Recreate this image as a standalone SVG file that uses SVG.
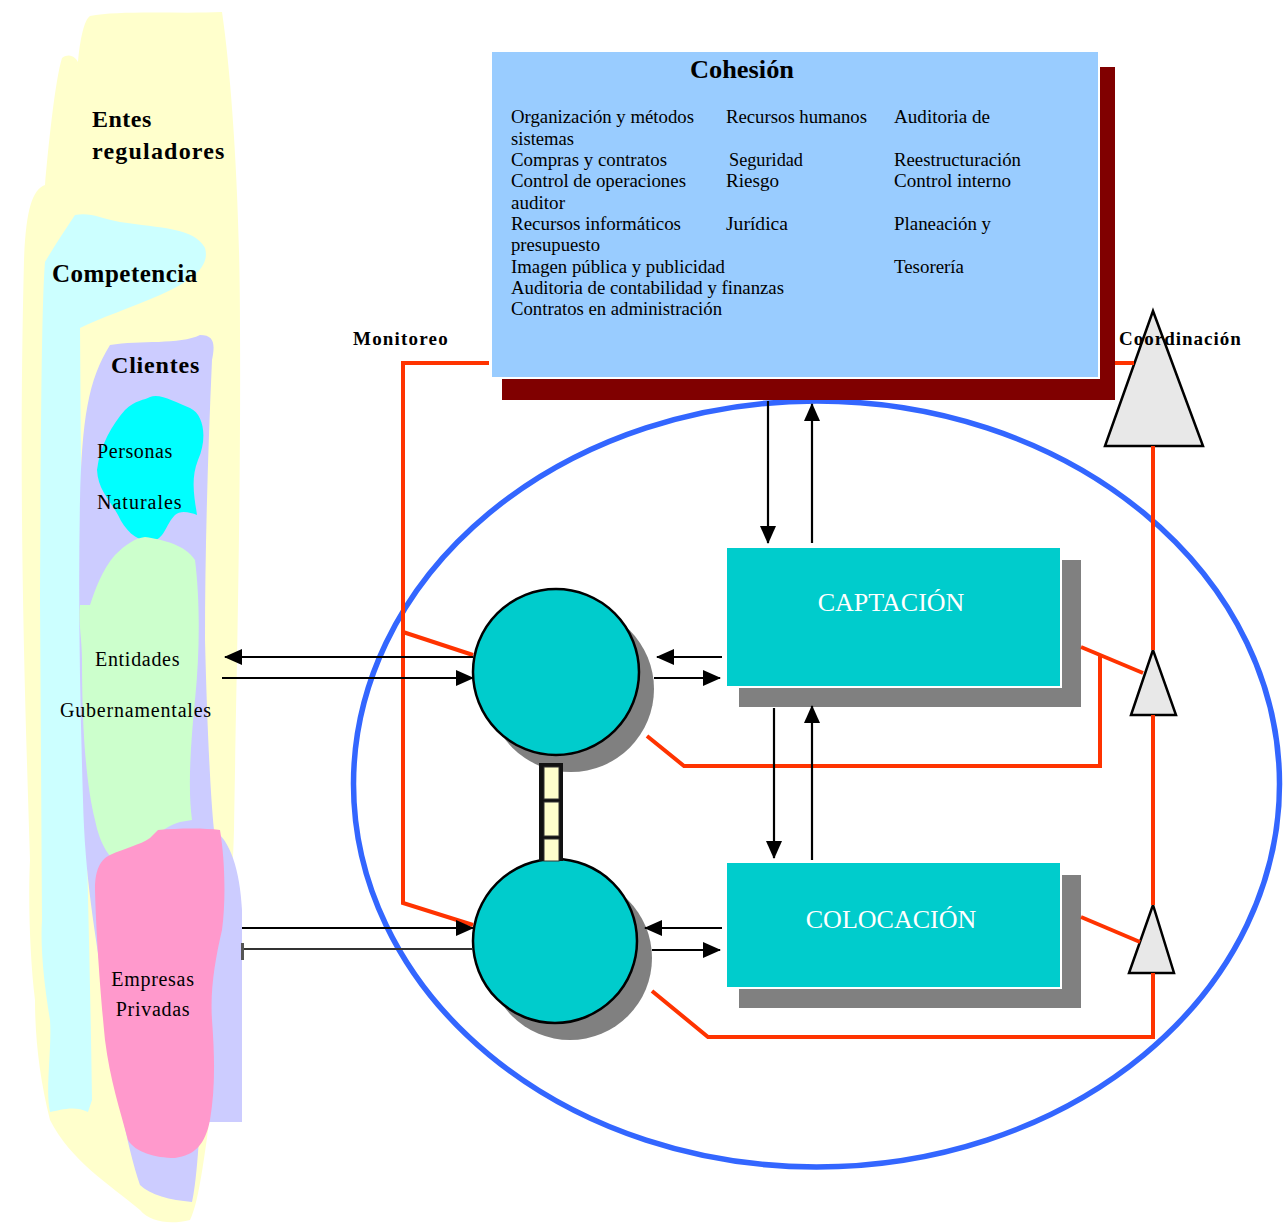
<svg xmlns="http://www.w3.org/2000/svg" width="1285" height="1224" viewBox="0 0 1285 1224">
<style>
.t{font-family:"Liberation Serif","Times New Roman",serif;fill:#000}
.b{font-weight:bold}
.list{font-size:19px}
.box{fill:#00CCCC;stroke:#fff;stroke-width:2}
.boxlbl{font-family:"Liberation Serif","Times New Roman",serif;font-size:26px;fill:#fff;text-anchor:middle}
.shadow{fill:#808080}
.circ{fill:#00CCCC;stroke:#000;stroke-width:2.5}
.tri{fill:#E8E8E8;stroke:#000;stroke-width:2.5;stroke-linejoin:miter}
.red{fill:none;stroke:#FF3300;stroke-width:4}
.arr{fill:none;stroke:#000;stroke-width:2.2}
.seg{fill:#FFFFCC;stroke:#333;stroke-width:1}
</style>
<defs>
<marker id="ah" viewBox="0 0 18 16" refX="17" refY="8" markerWidth="18" markerHeight="16" markerUnits="userSpaceOnUse" orient="auto">
<path d="M0,0 L18,8 L0,16 Z" fill="#000"/>
</marker>
</defs>
<rect width="1285" height="1224" fill="#fff"/>

<!-- Left regions -->
<g id="entes-reguladores">
<path fill="#FFFFCC" d="M90,16 C120,10 180,14 222,12 C232,80 240,200 240,330 C241,500 236,700 234,830 C232,900 225,1000 215,1080 C205,1150 200,1200 190,1220 C170,1225 150,1222 140,1210 C110,1185 70,1160 50,1120 C40,1080 35,1040 35,1000 C30,960 28,900 30,860 C25,700 18,500 24,260 C26,210 32,190 45,185 C48,150 55,80 62,58 C70,52 76,58 78,62 C80,40 84,20 90,16 Z"/>
<text class="t b" x="92" y="127" font-size="24" letter-spacing="0.5">Entes</text>
<text class="t b" x="92" y="159" font-size="24" letter-spacing="1.2">reguladores</text>
</g>
<g id="competencia">
<path fill="#CCFFFF" d="M75,215 C90,212 100,218 120,222 C160,228 195,228 205,248 C210,265 195,280 160,295 C130,308 100,318 80,328 L82,600 C85,800 90,950 92,1100 L88,1112 C75,1105 60,1110 50,1112 C45,1090 52,1050 50,1020 C45,990 40,950 42,920 L40,600 C41,400 42,300 45,262 C55,245 65,230 75,215 Z"/>
<text class="t b" x="52" y="282" font-size="25" letter-spacing="0.5">Competencia</text>
</g>
<g id="clientes">
<path fill="#CCCCFF" d="M110,345 C140,340 180,345 200,335 C215,335 215,345 212,360 C208,450 205,550 205,640 C207,720 210,790 214,830 C230,840 240,870 242,910 L242,1122 L200,1122 C198,1160 195,1190 192,1202 C170,1200 150,1195 140,1185 C125,1140 115,1080 105,1000 C95,930 85,880 83,800 C80,700 78,600 80,500 C82,420 88,380 110,345 Z"/>
<text class="t b" x="111" y="373" font-size="24" letter-spacing="0.8">Clientes</text>
</g>
<g id="personas-naturales">
<path fill="#00FFFF" d="M150,397 C160,393 175,402 190,408 C205,415 207,440 198,460 C190,480 195,500 197,515 C190,512 180,510 175,515 C165,525 165,540 150,542 C135,540 125,530 118,515 C110,500 98,490 97,470 C100,445 112,425 125,410 C135,400 145,400 150,397 Z"/>
<text class="t" x="97" y="458" font-size="20" letter-spacing="0.6">Personas</text>
<text class="t" x="97" y="509" font-size="20" letter-spacing="1">Naturales</text>
</g>
<g id="entidades-gubernamentales">
<path fill="#CCFFCC" d="M145,537 C165,540 185,545 195,560 C200,600 200,650 195,700 C190,750 188,790 192,820 L180,822 C170,825 160,830 155,840 C150,860 140,870 125,870 C110,860 100,845 95,820 C85,780 82,720 82,660 C82,640 78,620 80,605 L90,605 C95,590 102,570 115,555 C125,545 135,538 145,537 Z"/>
<text class="t" x="95" y="666" font-size="20" letter-spacing="0.7">Entidades</text>
<text class="t" x="60" y="717" font-size="20" letter-spacing="0.8">Gubernamentales</text>
</g>
<g id="empresas-privadas">
<path fill="#FF99CC" d="M158,830 C180,828 205,828 220,830 C225,860 226,900 222,930 C215,960 210,990 212,1020 C215,1060 215,1090 210,1120 C205,1145 195,1155 175,1158 C155,1158 135,1152 128,1140 C120,1110 110,1080 105,1040 C100,990 96,930 95,890 C95,870 100,860 110,855 C125,848 140,845 150,838 Z"/>
<text class="t" x="153" y="986" font-size="20" letter-spacing="0.7" text-anchor="middle">Empresas</text>
<text class="t" x="153" y="1016" font-size="20" letter-spacing="0.7" text-anchor="middle">Privadas</text>
</g>

<!-- Boundary ellipse -->
<g id="sistema">
<ellipse cx="816.5" cy="784" rx="463" ry="383" fill="none" stroke="#3366FF" stroke-width="5.5"/>
</g>

<!-- Cohesión -->
<g id="cohesion">
<rect x="502" y="67" width="613" height="333" fill="#800000"/>
<rect x="491" y="51" width="608" height="327" fill="#99CCFF" stroke="#fff" stroke-width="2"/>
<text class="t b" x="742" y="78" font-size="25" text-anchor="middle" textLength="104" lengthAdjust="spacingAndGlyphs">Cohesión</text>
<g class="t list">
<text x="511" y="123" textLength="183" lengthAdjust="spacingAndGlyphs">Organización y métodos</text>
<text x="726" y="123" textLength="141" lengthAdjust="spacingAndGlyphs">Recursos humanos</text>
<text x="894" y="123" textLength="96" lengthAdjust="spacingAndGlyphs">Auditoria de</text>
<text x="511" y="145" textLength="63" lengthAdjust="spacingAndGlyphs">sistemas</text>
<text x="511" y="166" textLength="156" lengthAdjust="spacingAndGlyphs">Compras y contratos</text>
<text x="729" y="166" textLength="74" lengthAdjust="spacingAndGlyphs">Seguridad</text>
<text x="894" y="166" textLength="127" lengthAdjust="spacingAndGlyphs">Reestructuración</text>
<text x="511" y="187" textLength="175" lengthAdjust="spacingAndGlyphs">Control de operaciones</text>
<text x="726" y="187" textLength="53" lengthAdjust="spacingAndGlyphs">Riesgo</text>
<text x="894" y="187" textLength="117" lengthAdjust="spacingAndGlyphs">Control interno</text>
<text x="511" y="209" textLength="54" lengthAdjust="spacingAndGlyphs">auditor</text>
<text x="511" y="230" textLength="170" lengthAdjust="spacingAndGlyphs">Recursos informáticos</text>
<text x="726" y="230" textLength="62" lengthAdjust="spacingAndGlyphs">Jurídica</text>
<text x="894" y="230" textLength="97" lengthAdjust="spacingAndGlyphs">Planeación y</text>
<text x="511" y="251" textLength="89" lengthAdjust="spacingAndGlyphs">presupuesto</text>
<text x="511" y="273" textLength="214" lengthAdjust="spacingAndGlyphs">Imagen pública y publicidad</text>
<text x="894" y="273" textLength="70" lengthAdjust="spacingAndGlyphs">Tesorería</text>
<text x="511" y="294" textLength="273" lengthAdjust="spacingAndGlyphs">Auditoria de contabilidad y finanzas</text>
<text x="511" y="315" textLength="211" lengthAdjust="spacingAndGlyphs">Contratos en administración</text>
</g>
</g>

<!-- Captación -->
<g id="captacion">
<rect class="shadow" x="739" y="560" width="342" height="147"/>
<rect class="box" x="726" y="547" width="335" height="140"/>
<text class="boxlbl" x="891" y="611">CAPTACIÓN</text>
</g>
<!-- Colocación -->
<g id="colocacion">
<rect class="shadow" x="739" y="875" width="342" height="133"/>
<rect class="box" x="726" y="862" width="335" height="126"/>
<text class="boxlbl" x="891" y="928">COLOCACIÓN</text>
</g>

<!-- Circles -->
<g id="circulo-superior">
<circle class="shadow" cx="571" cy="689" r="83"/>
<circle class="circ" cx="556" cy="672" r="83"/>
</g>
<g id="circulo-inferior">
<circle class="shadow" cx="570" cy="958" r="82"/>
<circle class="circ" cx="555" cy="941" r="82"/>
</g>
<g id="enlace">
<rect x="539" y="763" width="24" height="98" fill="#111"/>
<rect class="seg" x="544" y="767" width="15" height="32"/>
<rect class="seg" x="544" y="802" width="15" height="34"/>
<rect class="seg" x="544" y="839" width="15" height="22"/>
</g>

<!-- Triangles -->
<g id="coordinacion">
<polygon class="tri" points="1153,311 1105,446 1203,446"/>
<text class="t b" x="1119" y="345" font-size="19" letter-spacing="1">Coordinación</text>
</g>
<g id="triangulo-captacion">
<polygon class="tri" points="1153,650 1131,715 1176,715"/>
</g>
<g id="triangulo-colocacion">
<polygon class="tri" points="1153,905 1129,973 1174,973"/>
</g>

<g id="monitoreo">
<text class="t b" x="353" y="345" font-size="19" letter-spacing="1.2">Monitoreo</text>
</g>

<!-- Connectors -->
<g id="connectors">
<g class="red">
<polyline points="489,363 403,363 403,903 473,925"/>
<line x1="403" y1="632" x2="473" y2="655"/>
<line x1="1115" y1="363" x2="1134" y2="363"/>
<line x1="1153" y1="446" x2="1153" y2="650"/>
<line x1="1153" y1="715" x2="1153" y2="905"/>
<polyline points="1153,973 1153,1037 708,1037 652,991"/>
<line x1="1081" y1="647" x2="1143" y2="673"/>
<polyline points="1100,655 1100,766 684,766 647,736"/>
<line x1="1081" y1="917" x2="1140" y2="942"/>
</g>
<g class="arr">
<line x1="768" y1="401" x2="768" y2="543" marker-end="url(#ah)"/>
<line x1="812" y1="543" x2="812" y2="404" marker-end="url(#ah)"/>
<line x1="722" y1="657" x2="657" y2="657" marker-end="url(#ah)"/>
<line x1="654" y1="678" x2="720" y2="678" marker-end="url(#ah)"/>
<line x1="774" y1="708" x2="774" y2="858" marker-end="url(#ah)"/>
<line x1="812" y1="860" x2="812" y2="706" marker-end="url(#ah)"/>
<line x1="722" y1="928" x2="645" y2="928" marker-end="url(#ah)"/>
<line x1="652" y1="950" x2="720" y2="950" marker-end="url(#ah)"/>
<line x1="473" y1="657" x2="225" y2="657" marker-end="url(#ah)"/>
<line x1="222" y1="678" x2="473" y2="678" marker-end="url(#ah)"/>
<line x1="242" y1="928" x2="473" y2="928" marker-end="url(#ah)"/>
<line x1="242" y1="949" x2="473" y2="949" stroke="#333"/>
</g>
<rect x="241" y="943" width="3" height="17" fill="#555"/>
</g>
</svg>
